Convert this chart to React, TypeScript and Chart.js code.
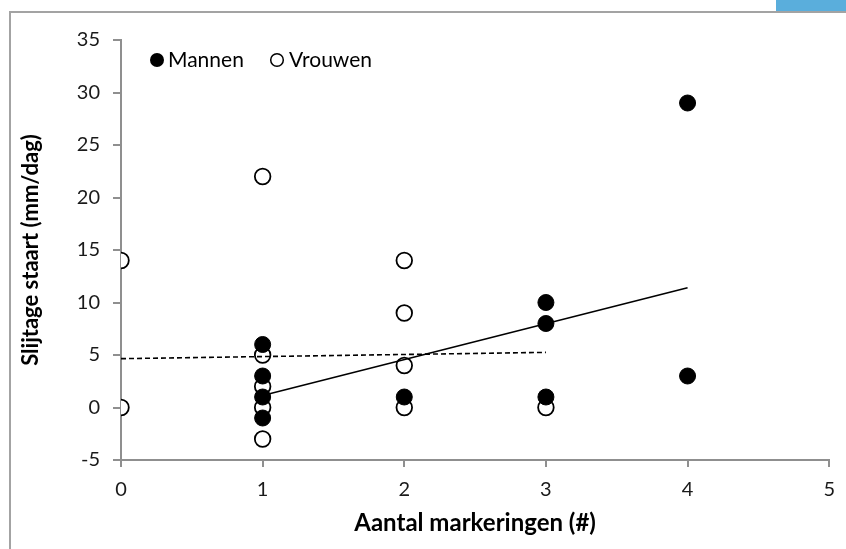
import React, { useEffect, useRef } from "react";
import { Chart, registerables } from "chart.js";

Chart.register(...registerables);

// Data
const mannenX = [1, 1, 1, 1, 2, 3, 3, 3, 4, 4];
const mannenY = [6, 3, 1, -1, 1, 10, 8, 1, 29, 3];
const vrouwenX = [0, 0, 1, 1, 1, 1, 1, 2, 2, 2, 2, 3];
const vrouwenY = [14, 0, 22, 5, 2, 0, -3, 14, 9, 4, 0, 0];
const mannenTrendX = [1, 4];
const mannenTrendY = [1.15, 11.4];
const vrouwenTrendX = [0, 3];
const vrouwenTrendY = [4.65, 5.25];
const legendLabels = ["Mannen", "Vrouwen"];
const xTitle = "Aantal markeringen (#)";
const yTitle = "Slijtage staart (mm/dag)";

const FONT = "Lato, 'Open Sans', sans-serif";
const AXIS_GRAY = "#8f8f8f";

const toPoints = (xs: number[], ys: number[]) => xs.map((x, i) => ({ x, y: ys[i] }));

const legendPlugin = {
  id: "insideLegend",
  afterDraw(chart: any) {
    const ctx = chart.ctx;
    ctx.save();
    ctx.font = `21px ${FONT}`;
    ctx.textBaseline = "middle";
    const y = 60;
    // Mannen
    ctx.beginPath();
    ctx.arc(157, y, 7, 0, Math.PI * 2);
    ctx.fillStyle = "#000";
    ctx.fill();
    ctx.fillText(legendLabels[0], 168, y);
    // Vrouwen
    ctx.beginPath();
    ctx.arc(277, y, 6.3, 0, Math.PI * 2);
    ctx.fillStyle = "#fff";
    ctx.fill();
    ctx.lineWidth = 1.5;
    ctx.strokeStyle = "#000";
    ctx.stroke();
    ctx.fillStyle = "#000";
    ctx.fillText(legendLabels[1], 289, y);
    ctx.restore();
  },
};

export default function App() {
  const ref = useRef<HTMLCanvasElement | null>(null);

  useEffect(() => {
    if (!ref.current) return;
    const chart = new Chart(ref.current, {
      type: "scatter",
      data: {
        datasets: [
          {
            label: "Mannen trend",
            data: toPoints(mannenTrendX, mannenTrendY),
            showLine: true,
            borderColor: "#000",
            borderWidth: 1.6,
            pointRadius: 0,
            order: 0,
          },
          {
            label: "Vrouwen trend",
            data: toPoints(vrouwenTrendX, vrouwenTrendY),
            showLine: true,
            borderColor: "#000",
            borderWidth: 1.6,
            borderDash: [5, 3],
            pointRadius: 0,
            order: 0,
          },
          {
            label: legendLabels[0],
            data: toPoints(mannenX, mannenY),
            backgroundColor: "#000",
            borderColor: "#000",
            borderWidth: 1,
            pointRadius: 8,
            order: 1,
          },
          {
            label: legendLabels[1],
            data: toPoints(vrouwenX, vrouwenY),
            backgroundColor: "#fff",
            borderColor: "#000",
            borderWidth: 1.8,
            pointRadius: 7.8,
            order: 2,
          },
        ],
      },
      options: {
        responsive: false,
        animation: false,
        events: [],
        layout: { padding: { top: 40, right: 16, left: 0, bottom: 0 } },
        plugins: {
          legend: { display: false },
          tooltip: { enabled: false },
        },
        scales: {
          x: {
            type: "linear",
            min: 0,
            max: 5,
            afterFit: (s: any) => {
              s.height = 89;
            },
            ticks: {
              stepSize: 1,
              font: { family: FONT, size: 20 },
              color: "#1a1a1a",
              padding: 11,
            },
            grid: {
              drawOnChartArea: false,
              drawTicks: true,
              tickLength: 7,
              color: AXIS_GRAY,
              lineWidth: 2,
            },
            border: { display: true, color: AXIS_GRAY, width: 2 },
            title: {
              display: true,
              text: xTitle,
              font: { family: FONT, size: 24, weight: "bold" },
              color: "#000",
              padding: { top: 0, bottom: 11 },
            },
          },
          y: {
            type: "linear",
            min: -5,
            max: 35,
            afterFit: (s: any) => {
              s.width = 121;
            },
            ticks: {
              stepSize: 5,
              font: { family: FONT, size: 20 },
              color: "#1a1a1a",
              padding: 13,
            },
            grid: {
              drawOnChartArea: false,
              drawTicks: true,
              tickLength: 8,
              color: AXIS_GRAY,
              lineWidth: 2,
            },
            border: { display: true, color: AXIS_GRAY, width: 2 },
            title: {
              display: true,
              text: yTitle,
              font: { family: FONT, size: 22, weight: "bold" },
              color: "#000",
              padding: { top: 18, bottom: 0 },
            },
          },
        },
      },
      plugins: [legendPlugin],
    } as any);
    return () => chart.destroy();
  }, []);

  return (
    <div
      style={{
        position: "fixed",
        left: 0,
        top: 0,
        width: 846,
        height: 549,
        background: "#fff",
        overflow: "hidden",
      }}
    >
      <div
        style={{
          position: "absolute",
          left: 9,
          top: 11,
          width: 846,
          height: 549,
          borderLeft: "2px solid #a3a3a3",
          borderTop: "2px solid #a3a3a3",
        }}
      />
      <div
        style={{
          position: "absolute",
          left: 776,
          top: 0,
          width: 70,
          height: 11,
          background: "#5aaedc",
        }}
      />
      <canvas
        ref={ref}
        width={846}
        height={549}
        style={{ position: "absolute", left: 0, top: 0, width: 846, height: 549 }}
      />
    </div>
  );
}
